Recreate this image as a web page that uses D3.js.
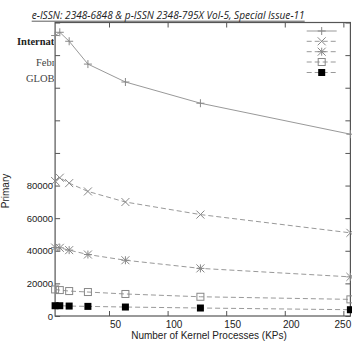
<!DOCTYPE html>
<html><head><meta charset="utf-8">
<script src="https://cdn.jsdelivr.net/npm/d3@7"></script>
<style>
html,body{margin:0;padding:0;background:#fff;}
svg{display:block;}
</style></head>
<body>
<svg id="c" width="352" height="349"></svg>
<script>
// ---- data ----
const kps = [4, 8, 16, 32, 64, 128, 256];
const seriesPlus   = [172000, 174000, 168500, 154500, 143500, 130500, 111500];
const seriesCross  = [82800, 84800, 81500, 76400, 69900, 62200, 51000];
const seriesStar   = [42000, 41800, 40400, 37700, 34200, 29200, 24000];
const seriesBox    = [16300, 15900, 15300, 14700, 13500, 11800, 10200];
const seriesFilled = [6300, 6300, 6100, 5900, 5500, 4900, 3850];
const xTicks = [50, 100, 150, 200, 250];
const yTicks = [0, 20000, 40000, 60000, 80000, 100000, 120000, 140000, 160000, 180000];
const yLabelled = [0, 20000, 40000, 60000, 80000];
const xTitle = "Number of Kernel Processes (KPs)";
const yTitle = "Primary";
const header = "e-ISSN: 2348-6848 & p-ISSN 2348-795X Vol-5, Special Issue-11";
const overlayTexts = ["International", "February", "GLOBAL"];

const series = [
  {vals: seriesPlus, marker: "plus", dash: null},
  {vals: seriesCross, marker: "cross", dash: "5,3"},
  {vals: seriesStar, marker: "star", dash: "5,3"},
  {vals: seriesBox, marker: "box", dash: "5,3"},
  {vals: seriesFilled, marker: "fbox", dash: "5,3"}
];

const svg = d3.select("#c");
const L = 55.1, R = 350.4, T = 22.5, B = 316;
const x = d3.scaleLinear().domain([4, 256]).range([L, R]);
const y = d3.scaleLinear().domain([0, 180000]).range([B, T]);

const axisCol = "#555", lineCol = "#999", markCol = "#888";

// frame
svg.append("rect").attr("x", L).attr("y", T).attr("width", R - L).attr("height", B - T)
  .attr("fill", "none").attr("stroke", axisCol).attr("stroke-width", 1.2);

// ticks (inward, mirrored)
const gB = svg.append("g").attr("transform", `translate(0,${B})`)
  .call(d3.axisBottom(x).tickValues(xTicks).tickSizeInner(-5).tickSizeOuter(0).tickPadding(5));
gB.select(".domain").remove();
gB.selectAll("line").attr("stroke", axisCol);
gB.selectAll("text").attr("font-family", "Liberation Sans, Arial, sans-serif").attr("font-size", 10)
  .attr("fill", "#222").attr("dx", (d, i) => i === xTicks.length - 1 ? -1 : 6);

const gT = svg.append("g").attr("transform", `translate(0,${T})`)
  .call(d3.axisTop(x).tickValues(xTicks).tickSizeInner(-5).tickSizeOuter(0).tickFormat(""));
gT.select(".domain").remove();
gT.selectAll("line").attr("stroke", axisCol);

const gL = svg.append("g").attr("transform", `translate(${L},0)`)
  .call(d3.axisLeft(y).tickValues(yTicks).tickSizeInner(-5).tickSizeOuter(0).tickPadding(2)
    .tickFormat(d => yLabelled.includes(d) ? String(d) : ""));
gL.select(".domain").remove();
gL.selectAll("line").attr("stroke", axisCol);
gL.selectAll("text").attr("font-family", "Liberation Sans, Arial, sans-serif").attr("font-size", 9.5).attr("fill", "#222");

const gR = svg.append("g").attr("transform", `translate(${R},0)`)
  .call(d3.axisRight(y).tickValues(yTicks).tickSizeInner(-5).tickSizeOuter(0).tickFormat(""));
gR.select(".domain").remove();
gR.selectAll("line").attr("stroke", axisCol);

// markers
function drawMarker(g, type, cx, cy) {
  const s = 4;
  if (type === "plus" || type === "star") {
    g.append("path").attr("d", `M${cx - s},${cy}H${cx + s}M${cx},${cy - s}V${cy + s}`)
      .attr("stroke", markCol).attr("fill", "none");
  }
  if (type === "cross" || type === "star") {
    g.append("path").attr("d", `M${cx - s},${cy - s}L${cx + s},${cy + s}M${cx - s},${cy + s}L${cx + s},${cy - s}`)
      .attr("stroke", markCol).attr("fill", "none");
  }
  if (type === "box") {
    g.append("rect").attr("x", cx - 3.5).attr("y", cy - 3.5).attr("width", 7).attr("height", 7)
      .attr("fill", "none").attr("stroke", markCol);
  }
  if (type === "fbox") {
    g.append("rect").attr("x", cx - 3.5).attr("y", cy - 3.5).attr("width", 7).attr("height", 7)
      .attr("fill", "#000");
  }
}

const line = d3.line().x(d => x(d[0])).y(d => y(d[1]));
series.forEach(s => {
  const pts = kps.map((k, i) => [k, s.vals[i]]);
  svg.append("path").datum(pts).attr("d", line).attr("fill", "none")
    .attr("stroke", lineCol).attr("stroke-width", 1).attr("stroke-dasharray", s.dash);
  const g = svg.append("g");
  pts.forEach(p => drawMarker(g, s.marker, x(p[0]), y(p[1])));
});

// legend (samples only)
const legY = [31, 41.3, 51.7, 62, 72.5];
series.forEach((s, i) => {
  svg.append("line").attr("x1", 306.7).attr("x2", 336.7).attr("y1", legY[i]).attr("y2", legY[i])
    .attr("stroke", lineCol).attr("stroke-dasharray", s.dash);
  drawMarker(svg.append("g"), s.marker, 321.7, legY[i]);
});

// axis titles
svg.append("text").attr("x", 209).attr("y", 338.5).attr("text-anchor", "middle")
  .attr("font-family", "Liberation Sans, Arial, sans-serif").attr("font-size", 10).attr("fill", "#222").text(xTitle);
svg.append("text").attr("transform", "translate(8.5,191) rotate(-90)").attr("text-anchor", "middle")
  .attr("font-family", "Liberation Sans, Arial, sans-serif").attr("font-size", 10).attr("fill", "#222").text(yTitle);

// page header overlay
svg.append("text").attr("x", 31.7).attr("y", 19).attr("textLength", 273).attr("lengthAdjust", "spacingAndGlyphs")
  .attr("font-family", "Open Sans, sans-serif").attr("font-style", "italic").attr("font-size", 10.5)
  .attr("fill", "#222").text(header);
svg.append("line").attr("x1", 31.7).attr("x2", 304.7).attr("y1", 21.2).attr("y2", 21.2)
  .attr("stroke", "#333").attr("stroke-width", 0.8);

// clipped page text overlay on left
svg.append("clipPath").attr("id", "lc").append("rect").attr("x", 0).attr("y", 25).attr("width", 54).attr("height", 70);
const og = svg.append("g").attr("clip-path", "url(#lc)");
og.append("text").attr("x", 17).attr("y", 45).attr("font-family", "Liberation Serif, serif").attr("font-weight", "bold")
  .attr("font-size", 10.5).attr("fill", "#222").text(overlayTexts[0]);
og.append("text").attr("x", 36).attr("y", 66).attr("font-family", "Liberation Serif, serif")
  .attr("font-size", 10.5).attr("fill", "#444").text(overlayTexts[1]);
og.append("text").attr("x", 26).attr("y", 81.5).attr("font-family", "Liberation Serif, serif")
  .attr("font-size", 10.5).attr("fill", "#444").text(overlayTexts[2]);
</script>
</body></html>
